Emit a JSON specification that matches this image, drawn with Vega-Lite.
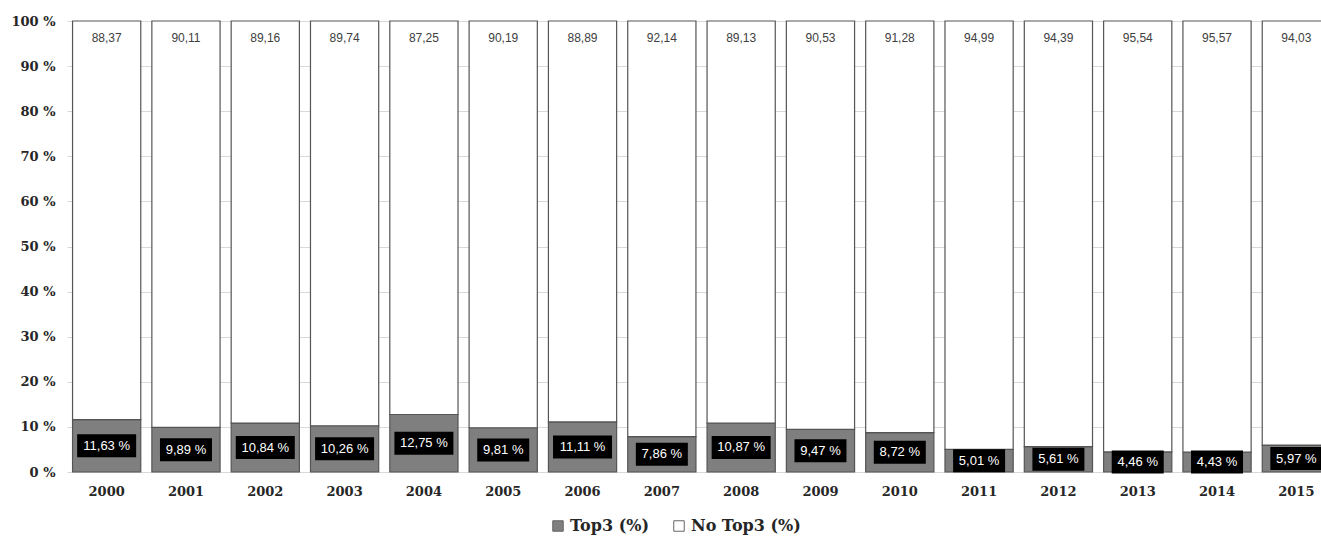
{
  "$schema": "https://vega.github.io/schema/vega-lite/v6.json",
  "width": 1254,
  "height": 451,
  "autosize": "none",
  "padding": {"left": 67, "top": 21, "right": 0, "bottom": 66},
  "background": "white",
  "config": {
    "view": {"stroke": null},
    "legend": {
      "orient": "none", "legendX": 483, "legendY": 497, "direction": "horizontal",
      "title": null, "labelFont": "DejaVu Serif", "labelFontWeight": "bold", "labelFontSize": 16,
      "labelColor": "#262626", "symbolType": "square", "symbolSize": 110,
      "symbolStrokeColor": "#666666", "symbolStrokeWidth": 1, "columnPadding": 22
    }
  },
  "data": {"values": [
    {"year": "2000", "series": "Top3 (%)", "value": 11.63}, {"year": "2000", "series": "No Top3 (%)", "value": 88.37},
    {"year": "2001", "series": "Top3 (%)", "value": 9.89}, {"year": "2001", "series": "No Top3 (%)", "value": 90.11},
    {"year": "2002", "series": "Top3 (%)", "value": 10.84}, {"year": "2002", "series": "No Top3 (%)", "value": 89.16},
    {"year": "2003", "series": "Top3 (%)", "value": 10.26}, {"year": "2003", "series": "No Top3 (%)", "value": 89.74},
    {"year": "2004", "series": "Top3 (%)", "value": 12.75}, {"year": "2004", "series": "No Top3 (%)", "value": 87.25},
    {"year": "2005", "series": "Top3 (%)", "value": 9.81}, {"year": "2005", "series": "No Top3 (%)", "value": 90.19},
    {"year": "2006", "series": "Top3 (%)", "value": 11.11}, {"year": "2006", "series": "No Top3 (%)", "value": 88.89},
    {"year": "2007", "series": "Top3 (%)", "value": 7.86}, {"year": "2007", "series": "No Top3 (%)", "value": 92.14},
    {"year": "2008", "series": "Top3 (%)", "value": 10.87}, {"year": "2008", "series": "No Top3 (%)", "value": 89.13},
    {"year": "2009", "series": "Top3 (%)", "value": 9.47}, {"year": "2009", "series": "No Top3 (%)", "value": 90.53},
    {"year": "2010", "series": "Top3 (%)", "value": 8.72}, {"year": "2010", "series": "No Top3 (%)", "value": 91.28},
    {"year": "2011", "series": "Top3 (%)", "value": 5.01}, {"year": "2011", "series": "No Top3 (%)", "value": 94.99},
    {"year": "2012", "series": "Top3 (%)", "value": 5.61}, {"year": "2012", "series": "No Top3 (%)", "value": 94.39},
    {"year": "2013", "series": "Top3 (%)", "value": 4.46}, {"year": "2013", "series": "No Top3 (%)", "value": 95.54},
    {"year": "2014", "series": "Top3 (%)", "value": 4.43}, {"year": "2014", "series": "No Top3 (%)", "value": 95.57},
    {"year": "2015", "series": "Top3 (%)", "value": 5.97}, {"year": "2015", "series": "No Top3 (%)", "value": 94.03}
  ]},
  "encoding": {
    "x": {
      "field": "year", "type": "nominal",
      "scale": {"range": [0, 1269], "paddingInner": 0.14, "paddingOuter": 0.07},
      "axis": {
        "title": null, "labelAngle": 0, "ticks": false, "domain": false, "grid": false,
        "labelPadding": 13, "labelFont": "DejaVu Serif", "labelFontWeight": "bold",
        "labelFontSize": 13, "labelColor": "#262626"
      }
    }
  },
  "layer": [
    {
      "mark": {"type": "bar", "stroke": "#555555", "strokeWidth": 1.2},
      "encoding": {
        "y": {
          "field": "value", "type": "quantitative", "stack": "zero", "title": null,
          "scale": {"domain": [0, 100], "nice": false},
          "axis": {
            "values": [0, 10, 20, 30, 40, 50, 60, 70, 80, 90, 100],
            "labelExpr": "datum.value + ' %'", "grid": true, "gridColor": "#d9d9d9",
            "ticks": false, "domain": false, "labelPadding": 12,
            "labelFont": "DejaVu Serif", "labelFontWeight": "bold", "labelFontSize": 13,
            "labelColor": "#262626"
          }
        },
        "color": {
          "field": "series", "type": "nominal",
          "scale": {"domain": ["Top3 (%)", "No Top3 (%)"], "range": ["#7f7f7f", "#ffffff"]}
        },
        "order": {"field": "series", "sort": "descending"}
      }
    },
    {
      "transform": [
        {"filter": "datum.series == 'No Top3 (%)'"},
        {"calculate": "replace(format(datum.value, '.2f'), '.', ',')", "as": "lab"}
      ],
      "mark": {"type": "text", "baseline": "top", "dy": 12, "font": "Liberation Sans", "fontSize": 12, "color": "#404040"},
      "encoding": {
        "y": {"datum": 100, "type": "quantitative", "title": null},
        "text": {"field": "lab"}
      }
    },
    {
      "transform": [
        {"filter": "datum.series == 'Top3 (%)'"},
        {"calculate": "datum.value / 2", "as": "mid"},
        {"calculate": "replace(format(datum.value, '.2f'), '.', ',') + ' %'", "as": "lab"}
      ],
      "layer": [
        {
          "mark": {"type": "tick", "thickness": 23, "color": "black", "opacity": 1},
          "encoding": {
            "y": {"field": "mid", "type": "quantitative", "title": null},
            "size": {"condition": {"test": "datum.value >= 10", "value": 59}, "value": 52}
          }
        },
        {
          "mark": {"type": "text", "color": "white", "font": "Liberation Sans", "fontSize": 13},
          "encoding": {
            "y": {"field": "mid", "type": "quantitative", "title": null},
            "text": {"field": "lab"}
          }
        }
      ]
    }
  ]
}
